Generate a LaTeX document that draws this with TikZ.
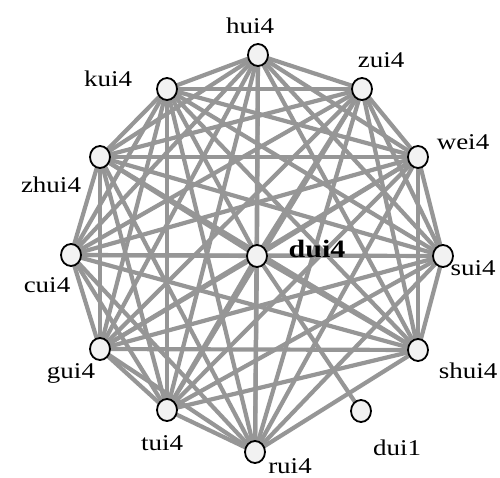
\documentclass[tikz,border=0pt]{standalone}
\usepackage{fontspec}
\setmainfont[FakeStretch=1.2]{Liberation Serif}
\usetikzlibrary{shapes.geometric,backgrounds}
\definecolor{edgegray}{RGB}{150,150,150}
\definecolor{nodefill}{RGB}{242,242,242}
\tikzset{
  vtx/.style={ellipse,draw=black,line width=1.8pt,fill=nodefill,minimum width=20pt,minimum height=22pt,inner sep=0pt},
  lbl/.style={anchor=base,inner sep=0pt,font=\fontsize{22.5}{26}\selectfont},
  clbl/.style={anchor=base,inner sep=0pt,font=\fontsize{25}{29}\selectfont\bfseries},
  edge/.style={draw=edgegray,line width=4.2pt}
}
\begin{document}
\begin{tikzpicture}[x=1pt,y=-1pt]
\useasboundingbox (0,0) rectangle (500,478);
\node[vtx] (dui4) at (257,256) {};
\node[vtx] (hui4) at (258,55) {};
\node[vtx] (zui4) at (362,89) {};
\node[vtx] (wei4) at (418,157) {};
\node[vtx] (sui4) at (443,256) {};
\node[vtx] (shui4) at (418,350) {};
\node[vtx] (dui1) at (361,411) {};
\node[vtx] (rui4) at (255,452) {};
\node[vtx] (tui4) at (167,410) {};
\node[vtx] (gui4) at (100,349) {};
\node[vtx] (cui4) at (71,255) {};
\node[vtx] (zhui4) at (100,157) {};
\node[vtx] (kui4) at (167,89) {};
\begin{scope}[on background layer]
\foreach \a/\b in {hui4/zui4,hui4/wei4,hui4/sui4,hui4/shui4,hui4/rui4,hui4/tui4,hui4/gui4,hui4/cui4,hui4/zhui4,hui4/kui4,
  zui4/wei4,zui4/sui4,zui4/shui4,zui4/rui4,zui4/tui4,zui4/gui4,zui4/cui4,zui4/zhui4,zui4/kui4,
  wei4/sui4,wei4/shui4,wei4/rui4,wei4/tui4,wei4/gui4,wei4/cui4,wei4/zhui4,wei4/kui4,
  sui4/shui4,sui4/rui4,sui4/tui4,sui4/gui4,sui4/cui4,sui4/zhui4,sui4/kui4,
  shui4/rui4,shui4/tui4,shui4/gui4,shui4/cui4,shui4/zhui4,shui4/kui4,
  rui4/tui4,rui4/gui4,rui4/cui4,rui4/zhui4,rui4/kui4,
  tui4/gui4,tui4/cui4,tui4/zhui4,tui4/kui4,
  gui4/cui4,gui4/zhui4,gui4/kui4,
  cui4/zhui4,cui4/kui4,
  zhui4/kui4,
  dui4/hui4,dui4/zui4,dui4/wei4,dui4/sui4,dui4/shui4,dui4/dui1,dui4/rui4,dui4/tui4,dui4/gui4,dui4/cui4,dui4/zhui4,dui4/kui4}
  {\draw[edge] (\a.center) -- (\b.center);}
\end{scope}
\node[clbl] (t-dui4) at (317,257) {dui4};
\node[lbl] (t-hui4) at (250,34) {hui4};
\node[lbl] (t-zui4) at (381,68) {zui4};
\node[lbl] (t-wei4) at (463,150) {wei4};
\node[lbl] (t-sui4) at (473,275) {sui4};
\node[lbl] (t-shui4) at (468,378) {shui4};
\node[lbl] (t-dui1) at (397,455) {dui1};
\node[lbl] (t-rui4) at (290,473) {rui4};
\node[lbl] (t-tui4) at (162,450) {tui4};
\node[lbl] (t-gui4) at (71,378) {gui4};
\node[lbl] (t-cui4) at (47,292) {cui4};
\node[lbl] (t-zhui4) at (51,193) {zhui4};
\node[lbl] (t-kui4) at (108,87) {kui4};
\end{tikzpicture}
\end{document}
